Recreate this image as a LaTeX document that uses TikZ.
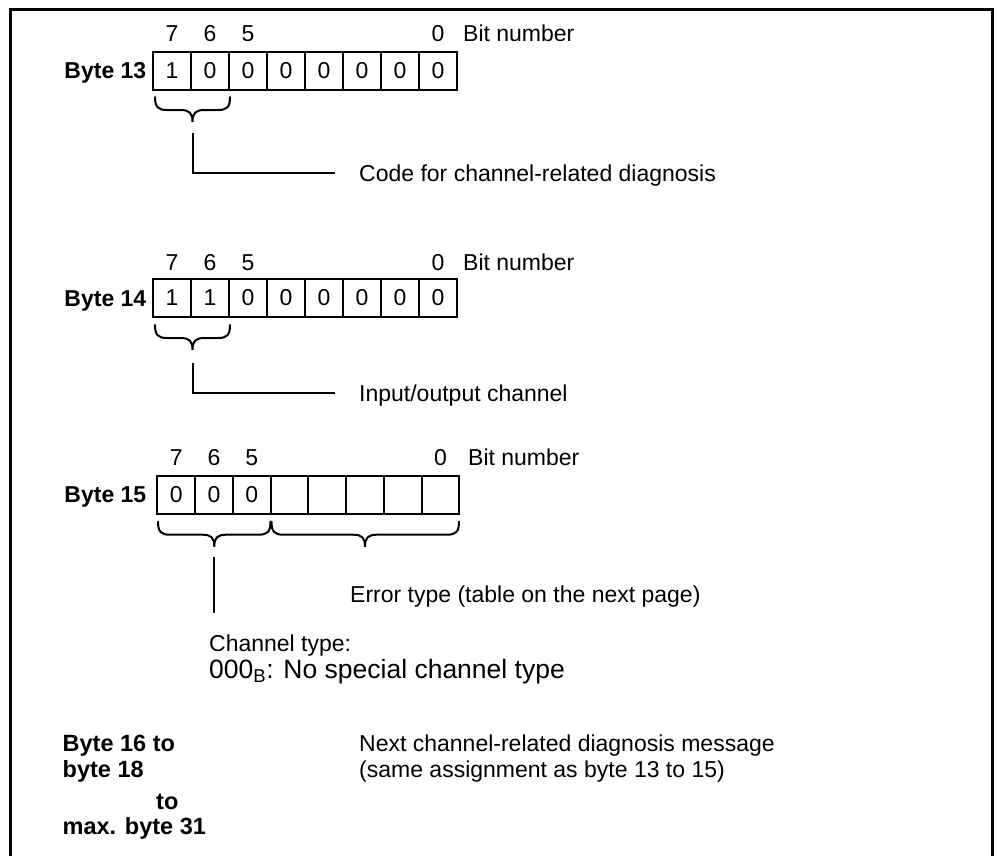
\documentclass[tikz,border=0pt]{standalone}
\usepackage{fontspec}
\setmainfont{Liberation Sans}
\begin{document}
\begin{tikzpicture}[x=1pt,y=-1pt,
  cell/.style={draw,line width=2pt,minimum width=38pt,minimum height=38pt,inner sep=0pt,
    font=\fontsize{23}{27}\selectfont},
  cellb/.style={cell,minimum width=37.75pt},
  txt/.style={inner sep=0pt,text height=16.5pt,text depth=0pt,anchor=west,
    font=\fontsize{23}{27}\selectfont},
  num/.style={txt,anchor=center},
  bytelbl/.style={txt,anchor=east,font=\fontsize{23}{27}\selectfont\bfseries},
  bigtxt/.style={txt,text height=19pt,font=\fontsize{26.5}{30}\selectfont},
  btxt/.style={txt,font=\fontsize{23.5}{27}\selectfont\bfseries},
  conn/.style={line width=2pt},
  bracestyle/.style={line width=2pt,line cap=round},
  frame/.style={line width=3pt}]
\useasboundingbox (0,0) rectangle (997,855);
% outer frame
\coordinate (fbl) at (10,860);
\coordinate (ftl) at (10,9.5);
\coordinate (ftr) at (992,9.5);
\coordinate (fbr) at (992,860);
\draw[frame] (fbl) -- (ftl) -- (ftr) -- (fbr);

\newcommand\mybrace[4]{% x1, x2, ytop, xm
  \draw[bracestyle] (#1,#3) .. controls (#1,#3+10) and (#1+3,#3+13) .. (#1+12,#3+13)
    -- (#4-12,#3+13) .. controls (#4-3,#3+13) and (#4,#3+16) .. (#4,#3+25)
    .. controls (#4,#3+16) and (#4+3,#3+13) .. (#4+12,#3+13)
    -- (#2-12,#3+13) .. controls (#2-3,#3+13) and (#2,#3+10) .. (#2,#3);}

% ---------------- Byte 13
\foreach \b/\v [count=\i from 0] in {7/1,6/0,5/0,4/0,3/0,2/0,1/0,0/0}
  \node[cell] (a\b) at (172+38*\i,70.5) {\v};
\node[bytelbl] (l13) at (146.5,70.5) {Byte 13};
\node[num] (a7n) at (172,33) {7};
\node[num] (a6n) at (210,33) {6};
\node[num] (a5n) at (248,33) {5};
\node[num] (a0n) at (438,33) {0};
\node[txt] (a0t) at (463,33) {Bit number};
\mybrace{155}{230}{97}{192.5}
\coordinate (s13) at (192.5,133);
\node[txt] (t13) at (359,173) {Code for channel-related diagnosis};
\draw[conn] (s13) |- ([xshift=-24pt]t13.west);

% ---------------- Byte 14
\foreach \b/\v [count=\i from 0] in {7/1,6/1,5/0,4/0,3/0,2/0,1/0,0/0}
  \node[cell] (c\b) at (172+38*\i,298) {\v};
\node[bytelbl] (l14) at (146.5,298) {Byte 14};
\node[num] (c7n) at (172,262) {7};
\node[num] (c6n) at (210,262) {6};
\node[num] (c5n) at (248,262) {5};
\node[num] (c0n) at (438,262) {0};
\node[txt] (c0t) at (463,262) {Bit number};
\mybrace{155}{230}{325}{192.5}
\coordinate (s14) at (192.5,363);
\node[txt] (t14) at (359,393) {Input/output channel};
\draw[conn] (s14) |- ([xshift=-24pt]t14.west);

% ---------------- Byte 15
\foreach \b/\v [count=\i from 0] in {7/0,6/0,5/0,4/,3/,2/,1/,0/}
  \node[cellb] (e\b) at (176.2+37.75*\i,494.7) {\v};
\node[bytelbl] (l15) at (146.5,494.7) {Byte 15};
\node[num] (e7n) at (176.2,457) {7};
\node[num] (e6n) at (214,457) {6};
\node[num] (e5n) at (251.7,457) {5};
\node[num] (e0n) at (440.5,457) {0};
\node[txt] (e0t) at (468,457) {Bit number};
\mybrace{158}{270.5}{521.7}{214.3}
\mybrace{271.5}{459}{521.7}{365}
\coordinate (s15a) at (214.3,557);
\coordinate (s15b) at (214.3,613);
\draw[conn] (s15a) -- (s15b);
\node[txt] (t15e) at (350,594) {Error type (table on the next page)};
\node[txt] (t15c) at (209,643) {Channel type:};
\node[bigtxt] (t15d) at (209,669) {000\textsubscript{B}: No special channel type};

% ---------------- Bottom
\node[btxt] (b1) at (62.5,743) {Byte 16 to};
\node[btxt] (b2) at (62.5,769) {byte 18};
\node[btxt] (b3) at (156,801) {to};
\node[btxt] (b4) at (62.5,826) {max. byte 31};
\node[txt] (n1) at (359,743) {Next channel-related diagnosis message};
\node[txt] (n2) at (359,769) {(same assignment as byte 13 to 15)};
\end{tikzpicture}
\end{document}
